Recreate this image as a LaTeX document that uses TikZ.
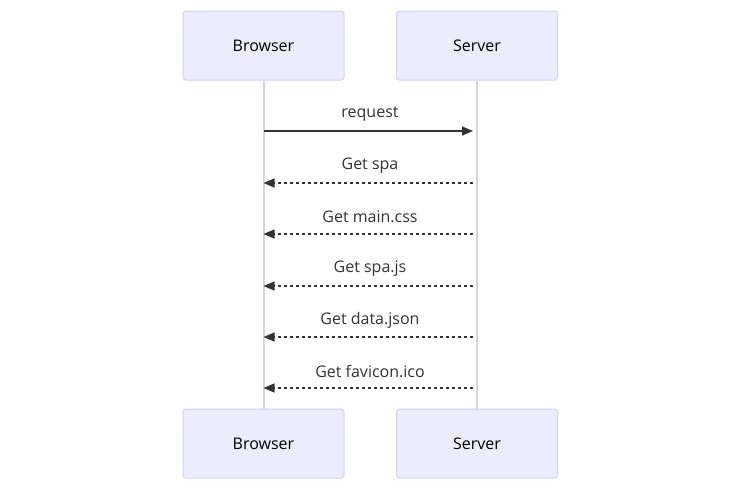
\documentclass[tikz,border=0pt]{standalone}
\usepackage{fontspec}
\setmainfont{Open Sans}
\usetikzlibrary{arrows.meta}
\definecolor{actorfill}{HTML}{ECECFF}
\definecolor{actorline}{HTML}{D5D1F3}
\definecolor{msgcol}{HTML}{333333}
\tikzset{
  actor/.style={draw=actorline, fill=actorfill, line width=1pt, rounded corners=3pt,
    minimum width=161pt, minimum height=69pt, text=black, font=\fontsize{16}{19}\selectfont},
  lifeline/.style={draw=actorline, line width=2pt},
  msg/.style={draw=msgcol, line width=1.5pt, -{Triangle[length=11pt,width=9pt]}},
  reply/.style={msg, line width=1.3pt, dash pattern=on 3pt off 3pt},
  msglabel/.style={text=msgcol, font=\fontsize{16}{19}\selectfont}
}

\begin{document}
\begin{tikzpicture}[x=1pt,y=-1pt]
  \useasboundingbox[fill=white] (0,0) rectangle (739,491);

  %participants, top and bottom
  \node[actor] (browsertop) at (263.5,45.5) {Browser};
  \node[actor] (servertop) at (477,45.5) {Server};
  \node[actor] (browserbot) at (263.5,443.5) {Browser};
  \node[actor] (serverbot) at (477,443.5) {Server};

  %lifelines
  \draw[lifeline] (browsertop.south) -- (browserbot.north);
  \draw[lifeline] (servertop.south) -- (serverbot.north);

  %request
  \coordinate (b0) at (263.5,131);
  \coordinate (s0) at (477,131);
  \draw[msg, shorten >=4pt] (b0) -- (s0);
  \node[msglabel] (l0) at (370,114) {request};

  %replies
  \foreach \i/\y/\txt in {1/183/Get spa, 2/234/Get main.css, 3/286/Get spa.js,
                          4/337/Get data.json, 5/388/Get favicon.ico}{
    \coordinate (b\i) at (263.5,\y);
    \coordinate (s\i) at (473,\y);
    \draw[reply] (s\i) -- (b\i);
    \node[msglabel] (l\i) at (370,\y-17) {\txt};
  }
\end{tikzpicture}
\end{document}
